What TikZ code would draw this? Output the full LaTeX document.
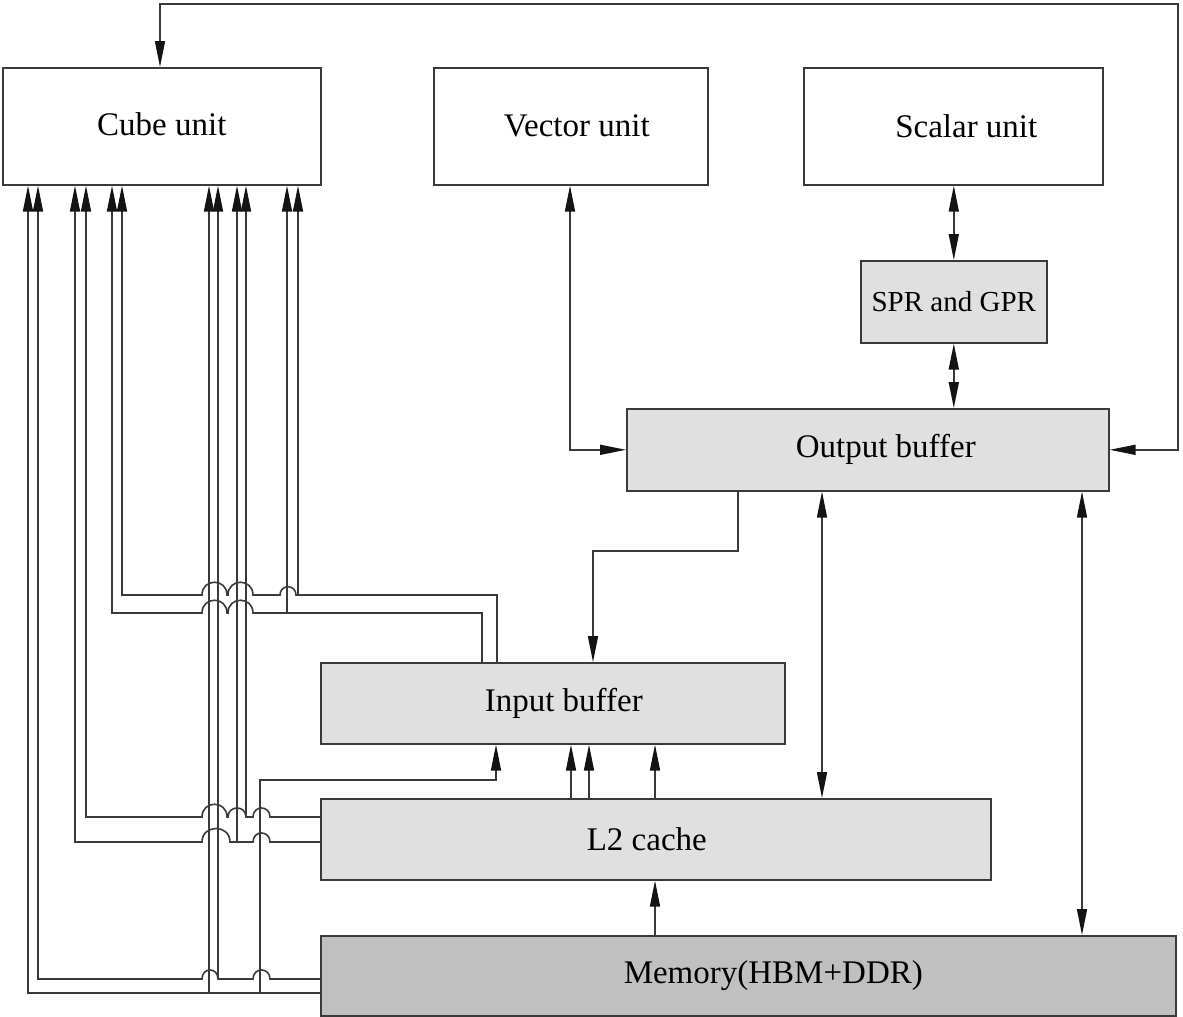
\documentclass[tikz,border=0pt]{standalone}
\usepackage{fontspec}
\setmainfont{Liberation Serif}
\usetikzlibrary{arrows.meta}
\definecolor{lc}{RGB}{58,58,58}
\definecolor{tipc}{RGB}{20,20,20}
\definecolor{lightfill}{RGB}{224,224,224}
\definecolor{memfill}{RGB}{192,192,192}
\begin{document}
\begin{tikzpicture}[x=1pt,y=-1pt,
  ln/.style={draw=lc, line width=1.6pt, line join=miter},
  tip/.tip={Triangle[length=26pt,width=10pt,color=tipc,fill=tipc]},
  arr/.style={-tip},
  darr/.style={tip-tip},
  box/.style={draw=lc, line width=1.6pt, anchor=north west, inner sep=0pt,
    font=\fontsize{33}{38}\selectfont},
  unitbox/.style={box, fill=white},
  greybox/.style={box, fill=lightfill},
  membox/.style={box, fill=memfill}]
\useasboundingbox (0,0) rectangle (1183,1017);
% boxes
\node[unitbox, minimum width=318pt, minimum height=117pt] (cube) at (2,67) {\raisebox{4pt}{Cube unit}};
\node[unitbox, minimum width=274pt, minimum height=117pt] (vector) at (433,67) {\hspace*{12pt}Vector unit};
\node[unitbox, minimum width=299pt, minimum height=117pt] (scalar) at (803,67) {\hspace*{26pt}Scalar unit};
\node[greybox, minimum width=186pt, minimum height=82pt, font=\fontsize{29}{34}\selectfont] (spr) at (860,260) {SPR and GPR};
\node[greybox, minimum width=482pt, minimum height=82pt] (outb) at (626,408) {\hspace*{36pt}\raisebox{3pt}{Output buffer}};
\node[greybox, minimum width=464pt, minimum height=81pt] (inb) at (320,662) {\hspace*{22pt}Input buffer};
\node[greybox, minimum width=670pt, minimum height=81pt] (l2) at (320,798) {L2 cache\hspace*{18pt}};
\node[membox, minimum width=855pt, minimum height=80pt] (mem) at (320,935) {\hspace*{50pt}Memory(HBM+DDR)};

% feedback loop output buffer -> cube unit
\draw[ln,darr] (160,0 |- cube.north) |- (1178,4) |- (outb.east);
% vector unit <-> output buffer
\draw[ln,darr] (570,0 |- vector.south) |- (outb.west);
% scalar <-> spr <-> output buffer
\draw[ln,darr] (spr.north |- scalar.south) -- (spr.north);
\draw[ln,darr] (spr.south) -- (spr.south |- outb.north);
% output buffer -> input buffer
\draw[ln,arr] (738,0 |- outb.south) -- (738,551) -| (593,0 |- inb.north);
% output buffer <-> L2, memory
\draw[ln,darr] (822,0 |- outb.south) -- (822,0 |- l2.north);
\draw[ln,darr] (1082,0 |- outb.south) -- (1082,0 |- mem.north);
% L2 -> input buffer
\draw[ln,arr] (571,0 |- l2.north) -- (571,0 |- inb.south);
\draw[ln,arr] (589,0 |- l2.north) -- (589,0 |- inb.south);
\draw[ln,arr] (655,0 |- l2.north) -- (655,0 |- inb.south);
% memory -> L2
\draw[ln,arr] (655,0 |- mem.north) -- (655,0 |- l2.south);

% memory -> cube (lower line y=993)
\draw[ln,arr] (mem.west |- 0,993) -- (28,993) -- (28,0 |- cube.south);
\draw[ln,arr] (209,993) -- (209,0 |- cube.south);
% memory -> input buffer
\draw[ln,arr] (260,993) -- (260,780) -- (496,780) -- (496,0 |- inb.south);
% memory -> cube (upper line y=979)
\draw[ln,arr] (mem.west |- 0,979) -- (270,979)
  .. controls (270,967) and (253,967) .. (253,979) -- (218,979)
  .. controls (218,967) and (202,967) .. (202,979) -- (38,979) -- (38,0 |- cube.south);
\draw[ln,arr] (218,979) -- (218,0 |- cube.south);

% L2 -> cube (upper line y=817)
\draw[ln,arr] (l2.west |- 0,817) -- (270,817)
  .. controls (270,805) and (253,805) .. (253,817) -- (246,817)
  .. controls (246,805) and (228,805) .. (228,817) -- (227,817)
  .. controls (227,800) and (202,800) .. (202,817) -- (86,817) -- (86,0 |- cube.south);
\draw[ln,arr] (246,817) -- (246,0 |- cube.south);
% L2 -> cube (lower line y=842)
\draw[ln,arr] (l2.west |- 0,842) -- (270,842)
  .. controls (270,830) and (253,830) .. (253,842) -- (230,842)
  .. controls (230,824) and (202,824) .. (202,842) -- (75,842) -- (75,0 |- cube.south);
\draw[ln,arr] (237,842) -- (237,0 |- cube.south);

% input buffer -> cube (upper line y=595)
\draw[ln,arr] (497,0 |- inb.north) -- (497,595) -- (296,595)
  .. controls (296,584) and (280,584) .. (280,595) -- (253,595)
  .. controls (253,578) and (228,578) .. (228,595) -- (227,595)
  .. controls (227,578) and (202,578) .. (202,595) -- (122,595) -- (122,0 |- cube.south);
\draw[ln,arr] (298,595) -- (298,0 |- cube.south);
% input buffer -> cube (lower line y=613)
\draw[ln,arr] (482,0 |- inb.north) -- (482,613) -- (253,613)
  .. controls (253,596) and (228,596) .. (228,613) -- (227,613)
  .. controls (227,596) and (202,596) .. (202,613) -- (112,613) -- (112,0 |- cube.south);
\draw[ln,arr] (287,613) -- (287,0 |- cube.south);
\end{tikzpicture}
\end{document}
